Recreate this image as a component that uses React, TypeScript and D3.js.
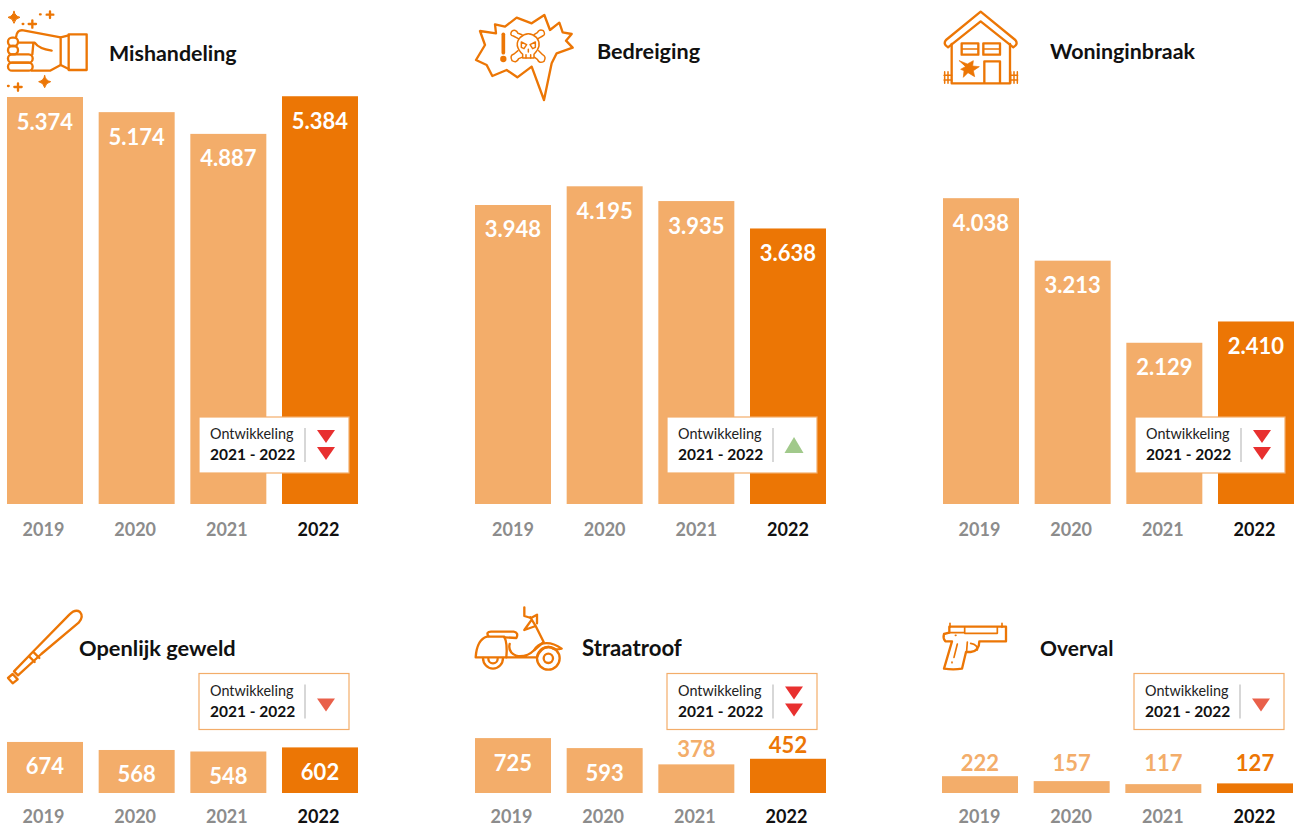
import React from 'react';
import * as d3 from 'd3';

const years = ['2019', '2020', '2021', '2022'];

const mishandeling = [5374, 5174, 4887, 5384];
const bedreiging = [3948, 4195, 3935, 3638];
// the 2021 bar is drawn taller in the picture than its label says
const bedreigingBars = [3948, 4195, 4000, 3638];
const woninginbraak = [4038, 3213, 2129, 2410];
const openlijkGeweld = [674, 568, 548, 602];
const straatroof = [725, 593, 378, 452];
const overval = [222, 157, 117, 127];

const LIGHT = '#f3ad6a';
const DARK = '#ec7605';
const FONT = 'Lato, sans-serif';

const y = d3.scaleLinear().domain([0, 5374]).range([0, 407]);
const x = d3.scaleBand().domain(years).range([0, 351]).paddingInner(0.171);
const fmt = (v) => d3.format(',')(v).replace(',', '.');

const panels = [
	{ title: 'Mishandeling', values: mishandeling, left: 7, base: 504, yearY: 536, yearDx: -1.5, titleX: 109, titleY: 61, titleSize: 21.4, boxX: 199, boxY: 417, trend: 'down2', icon: 'fist' },
	{ title: 'Bedreiging', values: bedreiging, bars: bedreigingBars, left: 475, base: 504, yearY: 536, yearDx: 0, titleX: 597, titleY: 59, titleSize: 21.6, boxX: 667, boxY: 417, trend: 'up', icon: 'threat' },
	{ title: 'Woninginbraak', values: woninginbraak, left: 943, base: 504, yearY: 536, yearDx: -1.5, titleX: 1050, titleY: 59, titleSize: 21.4, boxX: 1135, boxY: 417, trend: 'down2', icon: 'house' },
	{ title: 'Openlijk geweld', values: openlijkGeweld, left: 7, base: 793, yearY: 823.4, yearDx: -1.5, titleX: 79, titleY: 656, titleSize: 21.8, boxX: 199, boxY: 673.5, trend: 'down', icon: 'bat' },
	{ title: 'Straatroof', values: straatroof, left: 475, base: 793, yearY: 823.4, yearDx: -1.5, titleX: 582, titleY: 656, titleSize: 22.2, boxX: 667, boxY: 673.5, trend: 'down2', icon: 'scooter', labelY: [0, 0, 757, 753] },
	{ title: 'Overval', values: overval, left: 942, base: 793, yearY: 823.4, yearDx: -0.5, titleX: 1040, titleY: 656, titleSize: 21, boxX: 1134, boxY: 673.5, trend: 'down', icon: 'gun', labelY: [771, 771, 771, 771] },
];

// icons are traced in 3x crop coordinates, hence the 1/3 scale
const Icon = ({ tx, ty, children }) => (
	<g transform={`translate(${tx},${ty}) scale(${1 / 3})`} fill="none" stroke={DARK} strokeWidth={7} strokeLinejoin="round" strokeLinecap="round">
		{children}
	</g>
);

const star = (cx, cy, r) =>
	`M${cx} ${cy - r}Q${cx + 3} ${cy - 3} ${cx + r} ${cy}Q${cx + 3} ${cy + 3} ${cx} ${cy + r}Q${cx - 3} ${cy + 3} ${cx - r} ${cy}Q${cx - 3} ${cy - 3} ${cx} ${cy - r}Z`;
const plus = (cx, cy, r) => `M${cx - r} ${cy}H${cx + r}M${cx} ${cy - r}V${cy + r}`;

function FistIcon() {
	return (
		<Icon tx={0} ty={0}>
			<path d={star(42, 52, 18)} fill={DARK} strokeWidth={3} />
			<path d={star(134, 245, 18)} fill={DARK} strokeWidth={3} />
			<path d={`${plus(150, 44, 10)}${plus(97, 72, 11)}${plus(54, 261, 11)}`} />
			<path d="M120 43h2M68 72h2M24 258h2" />
			<rect x="206" y="103" width="54" height="107" />
			<path d="M206 106L182 112V195L206 207" />
			<path d="M182 112L70 91Q50 88 48 112M182 195L150 212H96" />
			<rect x="24" y="188" width="74" height="24" rx="12" />
			<rect x="24" y="163" width="74" height="25" rx="12" />
			<rect x="24" y="138" width="30" height="25" rx="12" />
			<rect x="24" y="113" width="30" height="25" rx="12" />
			<path d="M58 128H104Q116 146 155 152M100 130L97 163" />
		</Icon>
	);
}

function ThreatIcon() {
	return (
		<Icon tx={460} ty={0}>
			<path d="M60 93L108 100L105 73L135 80L170 53L215 70L253 45L270 90L298 68L308 97L335 102L318 122L338 143L290 160L275 190L252 300L215 200L172 232L140 210L97 228L80 195L48 180L75 135Z" />
			<path d="M130 103L130 158" strokeWidth={11} />
			<circle cx="130" cy="177" r="6" fill={DARK} />
			<g strokeWidth={4.5}>
				<path d="M188 163Q160 135 180 113Q205 90 230 113Q248 135 222 163V174H188Z" />
				<path d="M175 116L160 108Q148 106 155 94Q167 86 174 100L186 104M234 116L248 108Q258 104 250 92Q238 86 232 98L222 104M174 152L162 162Q148 166 156 182Q170 190 176 176L186 172M236 152L248 164Q260 170 252 184Q238 192 232 178L224 172" />
				<path d="M184 126L200 134L192 146L184 142ZM226 126L210 134L218 146L226 142Z" />
				<path d="M205 148V156M198 164V174M212 164V174" />
			</g>
		</Icon>
	);
}

function HouseIcon() {
	return (
		<Icon tx={930} ty={0}>
			<path d="M152 35L256 120Q266 132 250 142L152 64L54 142Q38 132 48 120Z" />
			<path d="M65 132V250H240V132" />
			<rect x="95" y="130" width="50" height="34" />
			<rect x="160" y="130" width="50" height="34" />
			<path d="M95 147H145M160 147H210" strokeWidth={4} />
			<path d="M163 248V184H210V248" />
			<path d="M88 182L112 192L130 182L128 198L148 200L130 212L134 230L114 218L100 232L102 212L92 208L106 200Z" fill={DARK} strokeWidth={2} />
			<path d="M44 215V250M54 215V250M242 215V250M252 215V250M262 215V250M42 226H65M42 240H65M240 226H263M240 240H263" strokeWidth={4.5} />
		</Icon>
	);
}

function BatIcon() {
	return (
		<Icon tx={0} ty={600}>
			<path d="M208 44Q226 26 240 36Q252 50 236 68L124 162L54 226L42 214L104 150Z" />
			<path d="M38 222L24 234L38 250L53 238Z" />
			<path d="M88 170L104 186M102 158L118 174" />
		</Icon>
	);
}

function ScooterIcon() {
	return (
		<Icon tx={465} ty={600}>
			<circle cx="250" cy="175" r="34" />
			<circle cx="250" cy="175" r="14" />
			<path d="M54 174A30 32 0 0 0 114 174" />
			<path d="M70 176A14 14 0 0 0 98 176" />
			<path d="M32 172Q36 118 66 110H118Q128 130 124 172Z" />
			<path d="M70 108Q62 96 78 95H146Q162 98 154 114L118 112" />
			<path d="M134 132Q128 158 156 168Q186 172 208 150Q218 132 236 130Q262 126 290 146Q268 152 258 142Q230 136 216 172H124" />
			<path d="M208 150L236 126L212 78L196 52M212 78L178 90L198 62" />
			<path d="M178 22V48L198 54L216 44V70" />
		</Icon>
	);
}

function GunIcon() {
	return (
		<Icon tx={934} ty={600}>
			<path d="M48 70V82M204 70V82" strokeWidth={5} />
			<path d="M46 80H216V124H136Q136 154 110 156H96L84 206Q58 210 30 206L54 124H34Q26 114 30 102L46 98Z" />
			<path d="M92 82V100H190V82M46 98H92" strokeWidth={5} />
			<path d="M100 126L98 152M110 130Q132 134 130 150" strokeWidth={5} />
			<path d="M70 132L60 172M54 186V188M64 106H66" strokeWidth={5} />
		</Icon>
	);
}

const icons = { fist: FistIcon, threat: ThreatIcon, house: HouseIcon, bat: BatIcon, scooter: ScooterIcon, gun: GunIcon };

function Triangle({ cx, top, w, h, up, fill }) {
	const pts = up
		? [[cx - w / 2, top + h], [cx + w / 2, top + h], [cx, top]]
		: [[cx - w / 2, top], [cx + w / 2, top], [cx, top + h]];
	return <polygon points={pts.join(' ')} fill={fill} />;
}

function Callout({ bx, by, trend }) {
	const cx = bx + 127;
	return (
		<g>
			<rect x={bx} y={by} width={150} height={56} fill="#fff" stroke={LIGHT} strokeWidth={1.2} />
			<text x={bx + 11} y={by + 22} fontFamily={FONT} fontSize={14.4} fill="#222">Ontwikkeling</text>
			<text x={bx + 11} y={by + 43} fontFamily={FONT} fontSize={15.5} fontWeight={700} fill="#111">2021 - 2022</text>
			<line x1={bx + 106} x2={bx + 106} y1={by + 11} y2={by + 45} stroke="#bdbdbd" strokeWidth={1.2} />
			{trend === 'down2' && (
				<>
					<Triangle cx={cx} top={by + 13} w={18} h={13} fill="#e8302f" />
					<Triangle cx={cx} top={by + 30} w={18} h={13} fill="#e8302f" />
				</>
			)}
			{trend === 'down' && <Triangle cx={cx} top={by + 25} w={18} h={13} fill="#e9604a" />}
			{trend === 'up' && <Triangle cx={cx} top={by + 20} w={19} h={16} up fill="#a1c98b" />}
		</g>
	);
}

function Panel({ p }) {
	const IconC = icons[p.icon];
	return (
		<g>
			<IconC />
			<text x={p.titleX} y={p.titleY} fontFamily={FONT} fontSize={p.titleSize} fontWeight={700} fill="#111">{p.title}</text>
			{p.values.map((v, i) => {
				const h = y(p.bars ? p.bars[i] : v);
				const top = p.base - h;
				const bx = p.left + x(years[i]);
				const last = i === years.length - 1;
				const inside = h > 35;
				const mid = bx + x.bandwidth() / 2;
				const labelY = inside ? top + 32.5 : p.labelY[i];
				return (
					<g key={years[i]}>
						<rect x={bx} y={top} width={x.bandwidth()} height={h} fill={last ? DARK : LIGHT} />
						<text x={mid} y={labelY} textAnchor="middle" fontFamily={FONT} fontSize={22} fontWeight={700} fill={inside ? '#fff' : last ? DARK : LIGHT}>
							{fmt(v)}
						</text>
						<text x={mid + p.yearDx} y={p.yearY} textAnchor="middle" fontFamily={FONT} fontSize={18} fontWeight={700} fill={last ? '#111' : '#8c8c8c'}>
							{years[i]}
						</text>
					</g>
				);
			})}
			<Callout bx={p.boxX} by={p.boxY} trend={p.trend} />
		</g>
	);
}

export default function App() {
	return (
		<svg width={1294} height={827} style={{ position: 'absolute', left: 0, top: 0, display: 'block' }}>
			<rect width={1294} height={827} fill="#fff" />
			{panels.map((p) => <Panel key={p.title} p={p} />)}
		</svg>
	);
}
